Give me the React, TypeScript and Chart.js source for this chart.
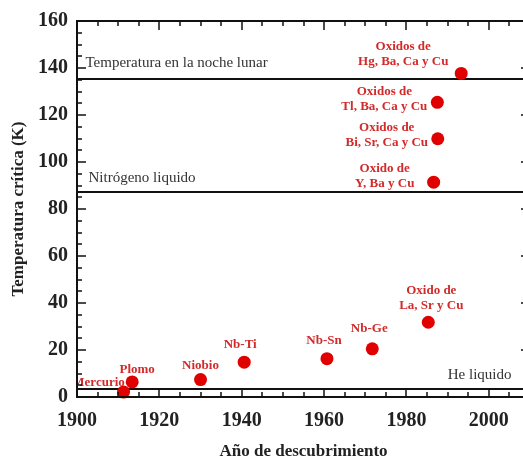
import React, { useEffect, useRef } from "react";
import { Chart, registerables } from "chart.js";

Chart.register(...registerables);

// ---- data ----
const materials = [
  "Mercurio",
  "Plomo",
  "Niobio",
  "Nb-Ti",
  "Nb-Sn",
  "Nb-Ge",
  "Oxido de\nLa, Sr y Cu",
  "Oxido de\nY, Ba y Cu",
  "Oxidos de\nBi, Sr, Ca y Cu",
  "Oxidos de\nTl, Ba, Ca y Cu",
  "Oxidos de\nHg, Ba, Ca y Cu",
];
const years = [1911.3, 1913.4, 1930, 1940.6, 1960.7, 1971.7, 1985.3, 1986.6, 1987.6, 1987.5, 1993.3];
const tc = [2.1, 6.4, 7.4, 14.8, 16.3, 20.5, 31.8, 91.4, 109.9, 125.4, 137.7];

const refLabels = ["Temperatura en la noche lunar", "Nitrógeno liquido", "He liquido"];
const refTemps = [135.2, 87.3, 3.5];

const xMin = 1900;
const xMax = 2010;
const xStep = 20;
const xMinorStep = 5;
const yMin = 0;
const yMax = 160;
const yStep = 20;
const yMinorStep = 5;

const xTitle = "Año de descubrimiento";
const yTitle = "Temperatura crítica (K)";

// ---- style (label offsets in px relative to the point) ----
const labelOffsets: [number, number][] = [
  [-25, -9],
  [5, -12],
  [0, -14],
  [-4, -18],
  [-3, -18],
  [-3, -20],
  [3, -32],
  [-49, -14],
  [-51, -11],
  [-53, -11],
  [-58, -27],
];
const LINE_GAP = 15;
const SERIF = "'Liberation Serif', 'Times New Roman', serif";
const RED_TEXT = "#d22a2a";
const RED_POINT = "#e00000";

const chartPlugin = {
  id: "decor",
  beforeDatasetsDraw(chart: any) {
    const { ctx, chartArea: a, scales } = chart;
    const x = scales.x;
    const y = scales.y;
    ctx.save();
    // reference lines
    ctx.strokeStyle = "#111";
    ctx.lineWidth = 2;
    refTemps.forEach((t) => {
      const py = Math.round(y.getPixelForValue(t));
      ctx.beginPath();
      ctx.moveTo(a.left, py);
      ctx.lineTo(a.right, py);
      ctx.stroke();
    });
    // reference labels
    ctx.fillStyle = "#333";
    ctx.font = `15px ${SERIF}`;
    ctx.textBaseline = "middle";
    refLabels.forEach((txt, i) => {
      const py = y.getPixelForValue(refTemps[i]);
      if (i === 0) {
        ctx.textAlign = "left";
        ctx.fillText(txt, a.left + 8.5, py - 16);
      } else if (i === 1) {
        ctx.textAlign = "left";
        ctx.fillText(txt, a.left + 11.5, py - 14);
      } else {
        ctx.textAlign = "right";
        ctx.fillText(txt, x.getPixelForValue(2005.5), py - 14);
      }
    });
    // point annotations
    ctx.beginPath();
    ctx.rect(a.left, a.top, a.right - a.left, a.bottom - a.top);
    ctx.clip();
    ctx.fillStyle = RED_TEXT;
    ctx.font = `bold 13px ${SERIF}`;
    ctx.textAlign = "center";
    ctx.textBaseline = "middle";
    materials.forEach((m, i) => {
      const px = x.getPixelForValue(years[i]);
      const py = y.getPixelForValue(tc[i]);
      const [dx, dy] = labelOffsets[i];
      m.split("\n").forEach((line, j) => {
        ctx.fillText(line, px + dx, py + dy + j * LINE_GAP);
      });
    });
    ctx.restore();
  },
  afterDatasetsDraw(chart: any) {
    const { ctx, chartArea: a, scales } = chart;
    const x = scales.x;
    const y = scales.y;
    ctx.save();
    ctx.strokeStyle = "#111";
    ctx.lineWidth = 2;
    ctx.strokeRect(a.left, a.top, a.right - a.left, a.bottom - a.top);
    ctx.lineWidth = 1.5;
    ctx.beginPath();
    for (let v = xMin; v <= xMax; v += xMinorStep) {
      const px = Math.round(x.getPixelForValue(v));
      const len = (v - xMin) % xStep === 0 ? 9 : 5;
      ctx.moveTo(px, a.bottom);
      ctx.lineTo(px, a.bottom - len);
      ctx.moveTo(px, a.top);
      ctx.lineTo(px, a.top + len);
    }
    for (let v = yMin; v <= yMax; v += yMinorStep) {
      const py = Math.round(y.getPixelForValue(v));
      const len = (v - yMin) % yStep === 0 ? 9 : 5;
      ctx.moveTo(a.left, py);
      ctx.lineTo(a.left + len, py);
      ctx.moveTo(a.right, py);
      ctx.lineTo(a.right - len, py);
    }
    ctx.stroke();
    ctx.restore();
  },
};

export default function App() {
  const ref = useRef<HTMLCanvasElement | null>(null);
  useEffect(() => {
    if (!ref.current) return;
    const chart = new Chart(ref.current, {
      type: "scatter",
      data: {
        datasets: [
          {
            data: years.map((yr, i) => ({ x: yr, y: tc[i] })),
            backgroundColor: RED_POINT,
            borderColor: RED_POINT,
            borderWidth: 0,
            pointRadius: 6.5,
            clip: false as any,
          },
        ],
      },
      options: {
        responsive: false,
        animation: false,
        devicePixelRatio: 1,
        layout: { padding: { top: 19, right: 10, left: 0, bottom: 0 } },
        plugins: { legend: { display: false }, tooltip: { enabled: false } },
        scales: {
          x: {
            type: "linear",
            min: xMin,
            max: xMax,
            grid: { display: false, drawTicks: false },
            border: { display: false },
            afterBuildTicks: (s: any) => {
              const t: any[] = [];
              for (let v = xMin; v <= xMax; v += xStep) t.push({ value: v });
              s.ticks = t;
            },
            ticks: {
              stepSize: xStep,
              includeBounds: false,
              padding: 12,
              color: "#222",
              font: { family: SERIF, weight: "bold", size: 20 },
              callback: (v: any) => String(v),
            },
            title: {
              display: true,
              text: xTitle,
              color: "#222",
              font: { family: SERIF, weight: "bold", size: 17 },
              padding: { top: 0, bottom: 0 },
            },
            afterFit: (s: any) => {
              s.height = 65;
            },
          },
          y: {
            type: "linear",
            min: yMin,
            max: yMax,
            grid: { display: false, drawTicks: false },
            border: { display: false },
            ticks: {
              stepSize: yStep,
              padding: 9,
              color: "#222",
              font: { family: SERIF, weight: "bold", size: 20 },
            },
            title: {
              display: true,
              text: yTitle,
              color: "#222",
              font: { family: SERIF, weight: "bold", size: 17 },
              padding: { top: 8, bottom: 0 },
            },
            afterFit: (s: any) => {
              s.width = 77;
            },
          },
        },
      },
      plugins: [chartPlugin],
    });
    return () => chart.destroy();
  }, []);
  return (
    <div
      style={{
        position: "fixed",
        left: 0,
        top: 0,
        width: 523,
        height: 462,
        overflow: "hidden",
        background: "#fff",
      }}
    >
      <canvas ref={ref} width={540} height={462} style={{ width: 540, height: 462, display: "block" }} />
    </div>
  );
}
